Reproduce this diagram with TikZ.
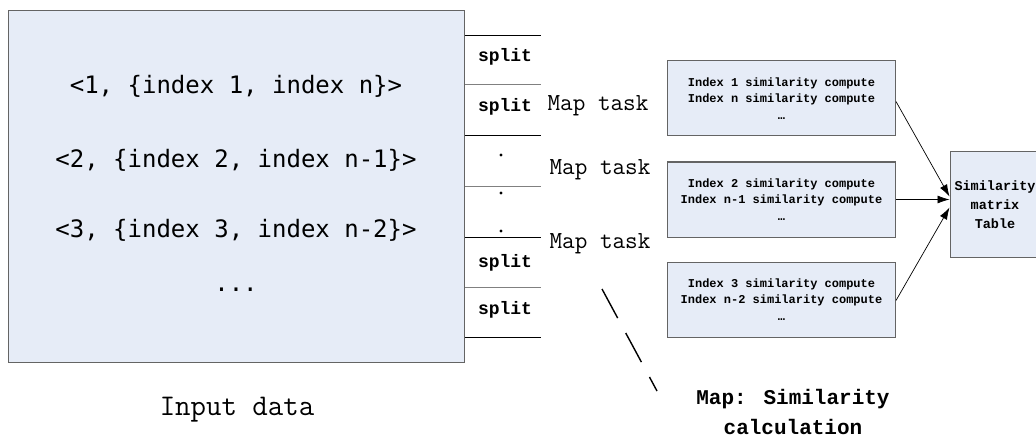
\documentclass[tikz,border=0pt]{standalone}
\usepackage{fontspec}
\setmainfont{Liberation Mono}
\newfontfamily\sansmono{DejaVu Sans Mono}
\newfontfamily\serifmono{Latin Modern Mono}
\usetikzlibrary{arrows.meta}
\definecolor{boxfill}{RGB}{230,236,247}
\definecolor{edgegray}{RGB}{100,100,100}

\begin{document}
\begin{tikzpicture}[x=1pt,y=-1pt,
  inbox/.style={draw=edgegray,line width=1pt,fill=boxfill,minimum width=456pt,minimum height=351pt,inner sep=0pt},
  calcbox/.style={draw=edgegray,line width=1pt,fill=boxfill,minimum width=228pt,minimum height=75pt,inner sep=0pt,align=center,font=\bfseries\fontsize{12}{16.5}\selectfont},
  tablebox/.style={draw=edgegray,line width=1pt,fill=boxfill,minimum width=90pt,minimum height=105pt,inner sep=0pt,align=center,font=\bfseries\fontsize{13.5}{19}\selectfont},
  pair/.style={font=\sansmono\fontsize{24}{28}\selectfont},
  splitlabel/.style={font=\bfseries\fontsize{18}{20}\selectfont},
  tasklabel/.style={font=\serifmono\fontsize{24.5}{28}\selectfont},
  feed/.style={line width=0.7pt,-{Latex[length=12pt,width=8pt]}}]
\clip (0,0) rectangle (1036,441);
\useasboundingbox (0,0) rectangle (1036,441);
% input data
\node[inbox] (input) at (236.75,186.5) {};
\node[pair] (p1) at (236,86) {<1, \{index 1, index n\}>};
\node[pair] (p2) at (236,160) {<2, \{index 2, index n-1\}>};
\node[pair] (p3) at (236,230) {<3, \{index 3, index n-2\}>};
\node[pair] (p4) at (236,290) {...};
\node[font=\serifmono\fontsize{30}{34}\selectfont] (inlabel) at (237,410) {Input data};
% splits
\foreach \y/\c in {36/black,85/gray,136/black,186/gray,237/black,287/gray,337/black}
  \draw[\c,line width=1pt] (465,\y) -- (541,\y);
\node[splitlabel] (s1) at (505,57) {split};
\node[splitlabel] (s2) at (505,107) {split};
\node[splitlabel] (s3) at (505,263) {split};
\node[splitlabel] (s4) at (505,310) {split};
\fill (501,155) circle (1.6);
\fill (501,193) circle (1.6);
\fill (501,231) circle (1.6);
% map tasks
\node[tasklabel] (t1) at (598,106) {Map task};
\node[tasklabel] (t2) at (600,170) {Map task};
\node[tasklabel] (t3) at (600,244) {Map task};
\node[calcbox] (c1) at (781.5,98.5) {Index 1 similarity compute\\Index n similarity compute\\\textellipsis};
\node[calcbox] (c2) at (781.5,199.5) {Index 2 similarity compute\\Index n-1 similarity compute\\\textellipsis};
\node[calcbox] (c3) at (781.5,299.5) {Index 3 similarity compute\\Index n-2 similarity compute\\\textellipsis};
\node[tablebox] (table) at (995,204.5) {Similarity\\matrix\\Table};
\draw[feed] ([yshift=-3pt]c1.east) -- ([yshift=8pt]table.west);
\draw[feed] (c2.east) -- (c2.east -| table.west);
\draw[feed] ([yshift=-1pt]c3.east) -- ([yshift=-3pt]table.west);
% callout
\coordinate (callstart) at (602,289);
\coordinate (callend) at (657,391);
\draw[line width=1.4pt,dash pattern=on 33pt off 17pt] (callstart) -- (callend);
\node[align=center,font=\bfseries\fontsize{21}{30}\selectfont] (maplabel) at (793,412) {Map: Similarity\\calculation};
\end{tikzpicture}
\end{document}
